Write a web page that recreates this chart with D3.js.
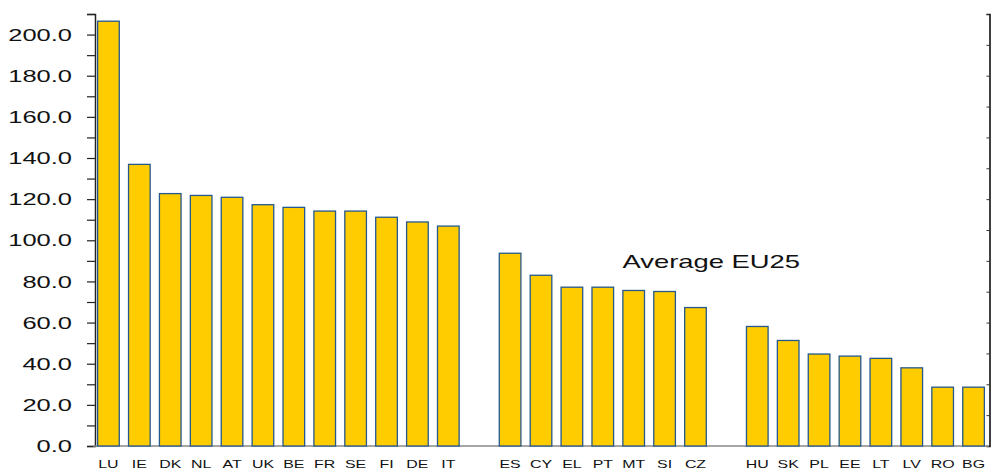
<!DOCTYPE html>
<html>
<head>
<meta charset="utf-8">
<script src="https://cdn.jsdelivr.net/npm/d3@7"></script>
<style>
  html, body { margin: 0; padding: 0; background: #fff; }
  svg { display: block; font-family: "Liberation Sans", Arial, sans-serif; }
</style>
</head>
<body>
<svg id="chart" width="991" height="470"></svg>
<script>
// ---- data ----
const group1 = ["LU","IE","DK","NL","AT","UK","BE","FR","SE","FI","DE","IT"];
const values1 = [206.5,136.9,122.7,121.8,120.9,117.3,116.0,114.2,114.2,111.2,108.9,106.9];
const group2 = ["ES","CY","EL","PT","MT","SI","CZ"];
const values2 = [93.7,83.0,77.2,77.2,75.6,75.1,67.3];
const group3 = ["HU","SK","PL","EE","LT","LV","RO","BG"];
const values3 = [58.1,51.3,44.7,43.7,42.6,38.0,28.6,28.6];
const yTicks = [0,20,40,60,80,100,120,140,160,180,200];
const annotation = "Average EU25";

// ---- build ----
const rows = [];
const slots = [];
[[group1, values1], [group2, values2], [group3, values3]].forEach(([g, v], gi) => {
  if (gi > 0) slots.push("gap" + gi);
  g.forEach((c, i) => { rows.push({ cat: c, value: v[i] }); slots.push(c); });
});

const svg = d3.select("#chart");
const y = d3.scaleLinear().domain([0, 210]).range([446, 14]);
const x = d3.scaleBand().domain(slots).range([93, 989]).padding(0);
const yRight = d3.scaleLinear().domain([0, 14]).range([446, 14]);

const TEXT_SX = 1.5;

// left axis line + ticks (every 10)
const leftAxis = d3.axisLeft(y).tickValues(d3.range(0, 211, 10)).tickSize(8).tickFormat("");
svg.append("g").attr("transform", "translate(95,0)").call(leftAxis)
  .call(g => g.select(".domain").attr("stroke", "#222").attr("stroke-width", 1.5))
  .call(g => g.selectAll(".tick line").attr("stroke", "#222").attr("stroke-width", 1.2));

// y tick labels (stretched horizontally)
svg.append("g").selectAll("text").data(yTicks).join("text")
  .attr("transform", d => `translate(72,${y(d)}) scale(${TEXT_SX},1)`)
  .attr("text-anchor", "end")
  .attr("dy", "0.36em")
  .attr("font-size", 17)
  .attr("fill", "#111")
  .text(d => d.toFixed(1));

// right axis
const rightAxis = d3.axisLeft(yRight).tickValues(d3.range(0, 15, 1)).tickSize(3).tickFormat("");
svg.append("g").attr("transform", "translate(989.5,0)").call(rightAxis)
  .call(g => g.select(".domain").attr("stroke", "#111").attr("stroke-width", 1.6))
  .call(g => g.selectAll(".tick line").attr("stroke", "#333").attr("stroke-width", 1));

// baseline
svg.append("line")
  .attr("x1", x.range()[0]).attr("x2", x.range()[1])
  .attr("y1", y(0)).attr("y2", y(0))
  .attr("stroke", "#888").attr("stroke-width", 1.5);

// bars
const bw = x.bandwidth() * 0.7;
svg.append("g").selectAll("rect").data(rows).join("rect")
  .attr("x", d => x(d.cat) + (x.bandwidth() - bw) / 2)
  .attr("y", d => y(d.value))
  .attr("width", bw)
  .attr("height", d => y(0) - y(d.value))
  .attr("fill", "#FFCC00")
  .attr("stroke", "#25588c")
  .attr("stroke-width", 1.3);

// category labels
svg.append("g").selectAll("text").data(rows).join("text")
  .attr("transform", d => `translate(${x(d.cat) + x.bandwidth() / 2},468) scale(1.35,1)`)
  .attr("text-anchor", "middle")
  .attr("font-size", 11.8)
  .attr("fill", "#111")
  .text(d => d.cat);

// annotation
svg.append("text")
  .attr("transform", `translate(622.5,268) scale(1.48,1)`)
  .attr("font-size", 18.5)
  .attr("fill", "#111")
  .text(annotation);
</script>
</body>
</html>
